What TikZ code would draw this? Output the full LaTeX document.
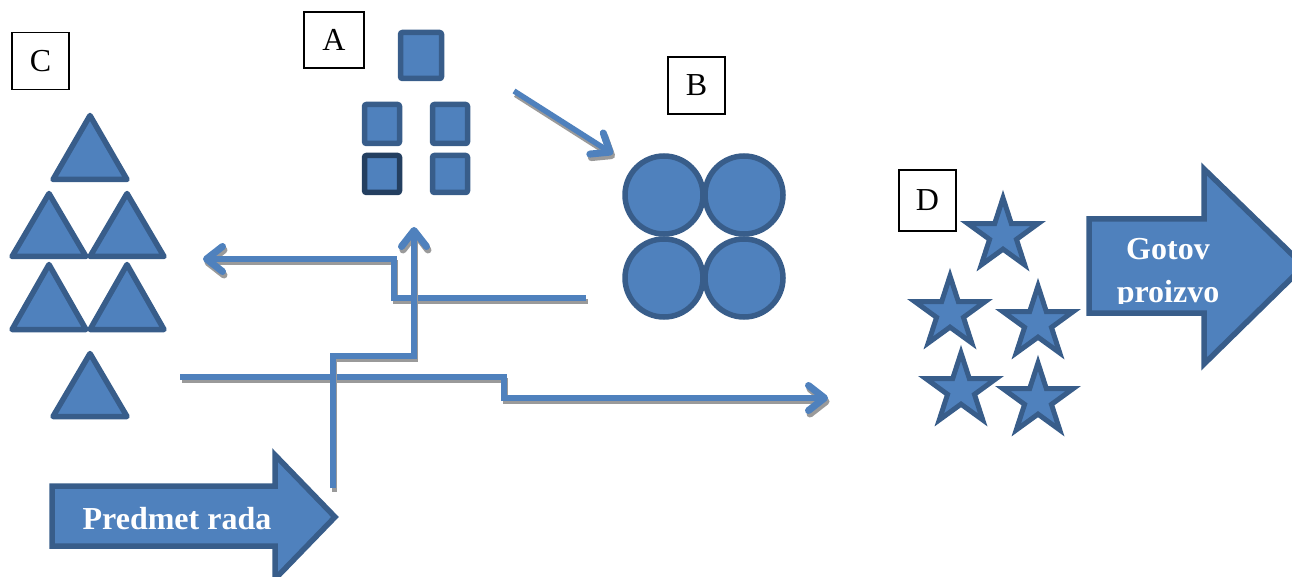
\documentclass[tikz,border=0pt]{standalone}
\usepackage{fontspec}
\setmainfont{Liberation Serif}
\usetikzlibrary{shapes.geometric,arrows.meta}

\definecolor{fillblue}{HTML}{4F81BD}
\definecolor{edgeblue}{HTML}{385D8A}
\definecolor{darkedge}{HTML}{243F60}
\definecolor{shadowgray}{HTML}{9A9A9A}

% connector with its grey shadow
\newcommand{\flowpath}[1]{\draw[flowshadow] #1; \draw[flowline] #1;}

\begin{document}
\begin{tikzpicture}[x=1pt,y=-1pt,
  letterbox/.style={draw,line width=1.2pt,fill=white,minimum width=57pt,minimum height=57pt,inner sep=0pt,font=\fontsize{32}{38}\selectfont},
  sq/.style={rectangle,draw=edgeblue,fill=fillblue,line width=5.5pt,rounded corners=2pt,inner sep=0pt},
  ring/.style={circle,draw=edgeblue,fill=fillblue,line width=5.5pt,minimum size=78pt,inner sep=0pt},
  tri/.style={draw=edgeblue,fill=fillblue,line width=5.5pt,line join=round},
  starshape/.style={star,star points=5,star point ratio=2.618,draw=edgeblue,fill=fillblue,line width=5pt,minimum size=74pt,inner sep=0pt},
  bigarrow/.style={draw=edgeblue,fill=fillblue,line width=5.5pt},
  arrowtext/.style={text=white,font=\bfseries\fontsize{32}{41}\selectfont,anchor=base,inner sep=0pt},
  flowline/.style={draw=fillblue,line width=5.5pt,-{Straight Barb[length=16pt,width=25pt,line width=7pt,round]}},
  flowshadow/.style={flowline,draw=shadowgray,transform canvas={xshift=1.5pt,yshift=-3.5pt}}]
\useasboundingbox (0,0) rectangle (1292,577);
\clip (0,0) rectangle (1292,577);

% big arrows
\draw[bigarrow] (52,486) -- (275,486) -- (275,455) -- (335,517) -- (275,579)
  -- (275,546) -- (52,546) -- cycle;
\node[arrowtext] (predmet) at (177,529) {Predmet rada};
\draw[bigarrow] (1089,219) -- (1204,219) -- (1204,169) -- (1304,266) -- (1204,364)
  -- (1204,313) -- (1089,313) -- cycle;
\begin{scope}
\clip (1089,219) rectangle (1292,303);
\node[arrowtext] (gotov) at (1168,260) {Gotov};
\node[arrowtext] (proizvo) at (1168,302) {proizvo};
\end{scope}

% C: triangles
\foreach \cx/\top/\bot in {90/115.5/179.5, 49/193.5/256.5, 127/193.5/256.5,
  49/264.5/329.5, 127/264.5/329.5, 90/353.5/416.5}
  \draw[tri] (\cx,\top) -- (\cx+37,\bot) -- (\cx-37,\bot) -- cycle;

% A: squares
\node[sq,minimum width=41pt,minimum height=46pt] (sqtop) at (421,55.5) {};
\node[sq,minimum width=35pt,minimum height=39pt] (sqml) at (382,124) {};
\node[sq,minimum width=35pt,minimum height=39pt] (sqmr) at (450,124) {};
\node[sq,draw=darkedge,minimum width=35pt,minimum height=37pt] (sqbl) at (382,174) {};
\node[sq,minimum width=35pt,minimum height=37pt] (sqbr) at (450,174) {};

% B: circles
\node[ring] (cir1) at (664,195) {};
\node[ring] (cir2) at (744,195) {};
\node[ring] (cir3) at (664,278) {};
\node[ring] (cir4) at (744,278) {};

% D: stars
\node[starshape] (st1) at (1003,235) {};
\node[starshape] (st2) at (950,313) {};
\node[starshape] (st3) at (1038,323) {};
\node[starshape] (st4) at (961,390) {};
\node[starshape] (st5) at (1038,400) {};

% letter boxes
\node[letterbox] (boxc) at (40.5,61) {C};
\node[letterbox,minimum width=60pt,minimum height=56pt] (boxa) at (334,40) {A};
\node[letterbox] (boxb) at (696.5,85.5) {B};
\node[letterbox,minimum height=61pt] (boxd) at (927.5,200.5) {D};

% connectors
\coordinate (bout) at (586,298);
\coordinate (cin) at (203,259);
\coordinate (pout) at (333,488);
\coordinate (ain) at (414,227);
\coordinate (cout) at (180,377);
\coordinate (din) at (828,398);
\coordinate (aout) at (514,91);
\coordinate (bin) at (613,154);

\flowpath{(bout) -- ++(-192,0) |- (cin)}
\flowpath{(cout) -- ++(324,0) |- (din)}
\flowpath{(pout) -- ++(0,-132) -| (ain)}
\flowpath{(aout) -- (bin)}
\end{tikzpicture}
\end{document}
